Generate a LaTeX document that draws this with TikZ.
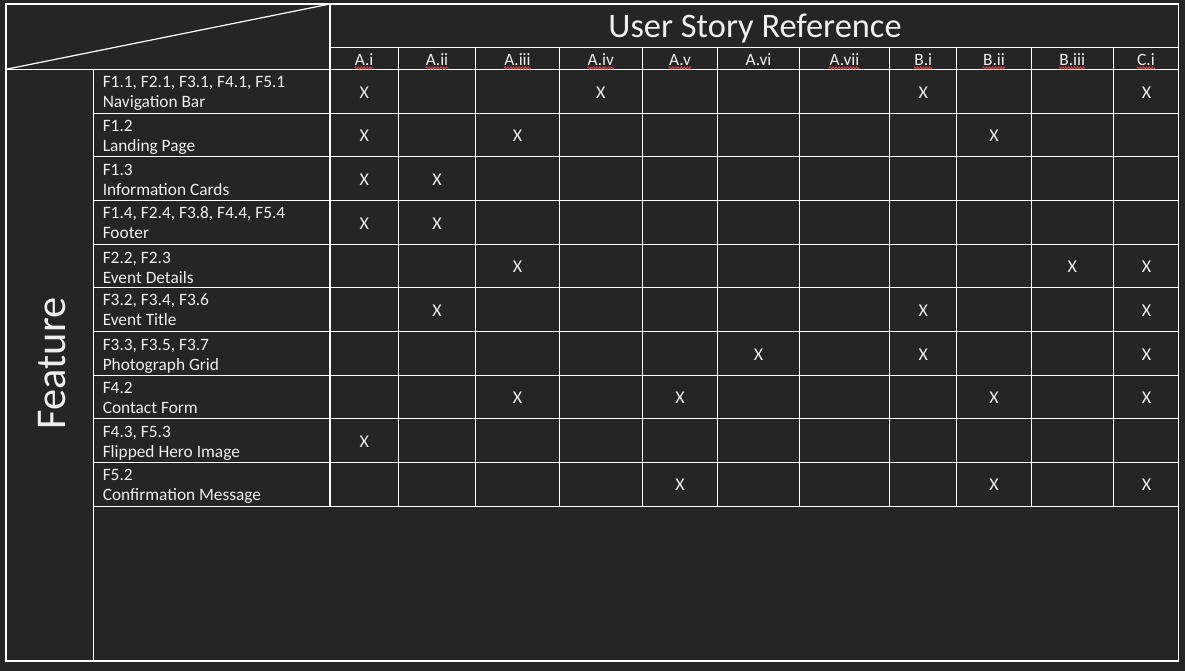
\documentclass[tikz,border=0pt]{standalone}
\usepackage{fontspec}
\setmainfont{Carlito}
\usetikzlibrary{decorations.pathmorphing}
\definecolor{bg}{RGB}{37,37,37}
\definecolor{ink}{RGB}{238,238,238}
\definecolor{spell}{RGB}{215,60,60}
\begin{document}
\begin{tikzpicture}[x=0.75pt,y=-0.75pt,
  rule/.style={draw=white,line width=0.9pt},
  cell/.style={text=ink,font=\fontsize{13}{15}\selectfont,inner sep=0pt},
  hdr/.style={cell,anchor=base},
  lbl/.style={cell,anchor=base west},
  xmark/.style={cell,anchor=center,font=\fontsize{13.5}{15}\selectfont},
  wavy/.style={draw=spell,line width=0.75pt,decorate,decoration={zigzag,segment length=2.2pt,amplitude=0.75pt}}]
\fill[bg] (0,0) rectangle (1185,671);
\useasboundingbox (0,0) rectangle (1185,671);
% frame and rules
\draw[rule] (6,4) rectangle (1178.7,661);
\draw[rule] (6,69.3) -- (1178.7,69.3);
\draw[rule] (6,69.3) -- (330,4);
\draw[rule] (330,4) -- (330,506.3);
\draw[rule] (330,47.7) -- (1178.7,47.7);
\draw[rule] (93.3,69.3) -- (93.3,661);
\foreach \y in {113.3,156.7,200.3,244.7,287.3,331.7,375.3,418.7,462.3,506.3}
  \draw[rule] (93.3,\y) -- (1178.7,\y);
\foreach \x in {398.3,475.7,559.3,642.3,717.7,799.3,889.7,956.7,1031.3,1113.3}
  \draw[rule] (\x,47.7) -- (\x,506.3);
% title and side label
\node[cell,font=\fontsize{25.8}{30}\selectfont,anchor=base] (title) at (755,37) {User Story Reference};
\node[cell,font=\fontsize{31.8}{36}\selectfont,rotate=90] (feat) at (52.5,363.5) {Feature};
% column headers
\foreach \cx/\t/\w [count=\i] in {364.2/A.i/1,437/A.ii/1,517.5/A.iii/1,600.8/A.iv/1,680/A.v/1,758.5/A.vi/0,844.5/A.vii/1,923.2/B.i/1,994/B.ii/1,1072.3/B.iii/1,1146/C.i/1}{
  \node[hdr] (h\i) at (\cx,65) {\t};
  \ifnum\w=1
    \draw[wavy] ([yshift=-2.2pt]h\i.base west) -- ([yshift=-2.2pt]h\i.base east);
  \fi
}
% row labels
\foreach \t/\a/\b [count=\i] in {69.3/{F1.1, F2.1, F3.1, F4.1, F5.1}/{Navigation Bar},
  113.3/{F1.2}/{Landing Page},
  156.7/{F1.3}/{Information Cards},
  200.3/{F1.4, F2.4, F3.8, F4.4, F5.4}/{Footer},
  244.7/{F2.2, F2.3}/{Event Details},
  287.3/{F3.2, F3.4, F3.6}/{Event Title},
  331.7/{F3.3, F3.5, F3.7}/{Photograph Grid},
  375.3/{F4.2}/{Contact Form},
  418.7/{F4.3, F5.3}/{Flipped Hero Image},
  462.3/{F5.2}/{Confirmation Message}}{
  \node[lbl] (ra\i) at (102.5,\t+18.4) {\a};
  \node[lbl] (rb\i) at (102.5,\t+38.4) {\b};
}
% marks
\foreach \cx/\cy [count=\i] in {
  364.2/92.3, 600.8/92.3, 923.2/92.3, 1146.5/92.3,
  364.2/136, 517.5/136, 994/136,
  364.2/179.5, 437/179.5,
  364.2/223.5, 437/223.5,
  517.5/267, 1072.3/267, 1146.5/267,
  437/310.5, 923.2/310.5, 1146.5/310.5,
  758.5/354.5, 923.2/354.5, 1146.5/354.5,
  517.5/398, 680/398, 994/398, 1146.5/398,
  364.2/441.5,
  680/485.2, 994/485.2, 1146.5/485.2}{
  \node[xmark] (m\i) at (\cx,\cy) {X};
}
\end{tikzpicture}
\end{document}
